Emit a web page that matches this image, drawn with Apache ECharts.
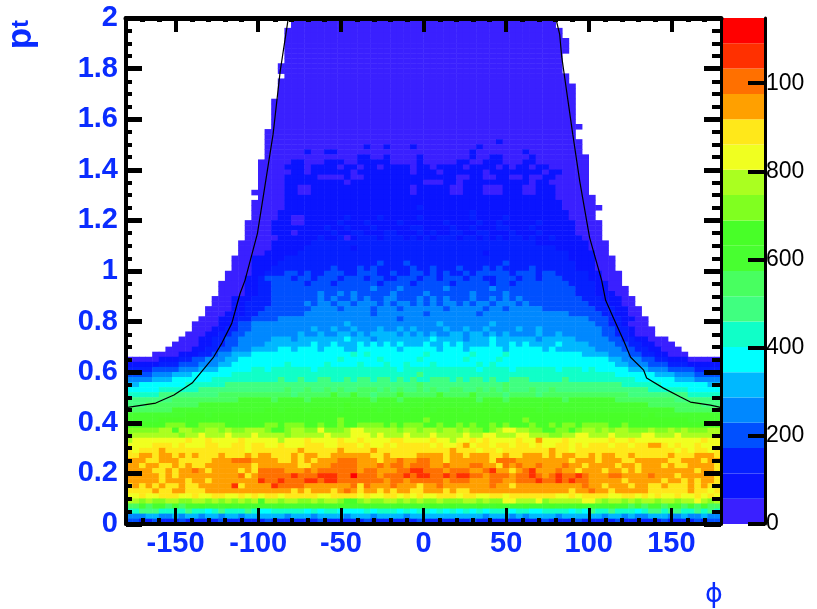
<!DOCTYPE html>
<html><head><meta charset="utf-8">
<style>html,body{margin:0;padding:0;background:#fff}#c{width:817px;height:609px}</style>
<script src="https://cdn.jsdelivr.net/npm/echarts@6/dist/echarts.min.js"></script>
</head><body><div id="c"></div>
<script>
// phi / pt binning of the histogram
const phiBinCount = 90;
const ptBinCount = 100;
const zMax = 1148;
const bandCount = 20;
const bandColors = ['#3a20ff','#0a14ff','#0620ff','#0050ff','#0088ff','#00b8ff','#00ffff','#10ffc8','#40ff80','#48ff60','#48ff30','#48ff28','#80ff20','#aaff20','#f0ff20','#ffe81a','#ffa000','#ff7000','#ff3000','#ff0000'];
const xMajorTicks = [-150,-100,-50,0,50,100,150];
const xMinorTicks = [-170,-160,-140,-130,-120,-110,-90,-80,-70,-60,-40,-30,-20,-10,10,20,30,40,60,70,80,90,110,120,130,140,160,170];
const zTicks = [0,200,400,600,800,1000];
const zTickLabels = ['0','200','400','600','800','100'];
const curvePhi = [-180,-179,-162,-151,-140,-127,-122,-116,-111,-108,-100.5,-91,-86.7,-82.4,-81.8];
const curvePt = [0.46,0.463,0.478,0.51,0.557,0.66,0.715,0.793,0.911,0.963,1.148,1.541,1.79,1.974,2];
const curvePhiR = [80,82.4,83.6,90.3,94.5,100.5,107.8,110.2,115,121,125.3,133.2,135,145.2,155.5,161.5,173.6,178.4,180];
const curvePtR = [2,1.935,1.848,1.541,1.356,1.132,0.963,0.884,0.813,0.726,0.659,0.608,0.577,0.537,0.502,0.482,0.47,0.463,0.46];
// colour band of every cell, top row (pt near 2) first; '.' = empty bin
const cellBands = [
".......... .......... .....00000 0000000000 0000000000 0000000000 00000..... .......... ..........",
".......... .......... .....00000 0000000000 0000000000 0000000000 00000..... .......... ..........",
".......... .......... ....000000 0000000000 0000000000 0000000000 000000.... .......... ..........",
".......... .......... ....000000 0000000000 0000000000 0000000000 000000.... .......... ..........",
".......... .......... ....000000 0000000000 0000000000 0000000000 0000000... .......... ..........",
".......... .......... ....000000 0000000000 0000000000 0000000000 0000000... .......... ..........",
".......... .......... ....000000 0000000000 0000000000 0000000000 0000000... .......... ..........",
".......... .......... ....000000 0000000000 0000000000 0000000000 000000.... .......... ..........",
".......... .......... ....000000 0000000000 0000000000 0000000000 000000.... .......... ..........",
".......... .......... ...0000000 0000000000 0000000000 0000000000 000000.... .......... ..........",
".......... .......... ...0000000 0000000000 0000000000 0000000000 000000.... .......... ..........",
".......... .......... ....000000 0000000000 0000000000 0000000000 0000000... .......... ..........",
".......... .......... ...0000000 0000000000 0000000000 0000000000 0000000... .......... ..........",
".......... .......... ...0000000 0000000000 0000000000 0000000000 00000000.. .......... ..........",
".......... .......... ...0000000 0000000000 0000000000 0000000000 00000000.. .......... ..........",
".......... .......... ...0000000 0000000000 0000000000 0000000000 00000000.. .......... ..........",
".......... .......... ..00000000 0000000000 0000000000 0000000000 00000000.. .......... ..........",
".......... .......... ..00000000 0000000000 0000000000 0000000000 00000000.. .......... ..........",
".......... .......... ..00000000 0000000000 0000000000 0000000000 00000000.. .......... ..........",
".......... .......... ..00000000 0000000000 0000000000 0000000000 00000000.. .......... ..........",
".......... .......... ..00000000 0000000000 0000000000 0000000000 00000000.. .......... ..........",
".......... .......... ..00000000 0000000000 0000000000 0000000000 000000000. .......... ..........",
".......... .......... .000000000 0000000000 0000000000 0000000000 00000000.. .......... ..........",
".......... .......... .000000000 0000000000 0000000000 0000000000 00000000.. .......... ..........",
".......... .......... .000000000 0000000000 0000000000 0000001000 000000000. .......... ..........",
".......... .......... .000000000 0000001001 0001000000 0001000000 000000000. .......... ..........",
".......... .......... .000000100 1100000000 0000000000 0010000000 100000000. .......... ..........",
".......... .......... .000000000 0000011001 0000100000 0010011000 0100000000 .......... ..........",
".......... .......... 0000011000 1110011111 0000100000 1100111000 1100000000 .......... ..........",
".......... .......... 0000111011 1101101101 1110110111 1011110101 1011000000 .......... ..........",
".......... .......... 0000011011 1111011111 1110111011 1111011111 1110110000 .......... ..........",
".......... .......... 0000111110 0001001111 1111111111 0011001100 1001100000 .......... ..........",
".......... .......... 0000111111 1110111111 1111100011 0111111111 1011000000 .......... ..........",
".......... .......... 0000110011 1111111111 1110111110 0111000111 0011100000 .......... ..........",
".......... .........0 0000110011 1111111111 1110111110 0111000111 0011100000 .......... ..........",
".......... .......... 0000111111 1111111111 1111111111 1111111111 1111100000 0......... ..........",
".......... .........0 0000111111 1111111111 1111111111 1111111111 1111110000 0......... ..........",
".......... .........0 0000111111 1111111111 1111211111 1111111111 1111110000 00........ ..........",
".......... .........0 0001111111 1111111111 1111111111 1121111111 1111111000 0......... ..........",
".......... .........0 0001100111 1112111121 1111211111 1121111211 1111111000 0......... ..........",
".......... ........00 0011100111 1121112111 1211111121 1112112111 1121111100 00........ ..........",
".......... ........00 0011111111 2112111211 1112211112 1121112211 1211111100 00........ ..........",
".......... ........00 0011101111 1211221112 2111212112 2112211121 1121111100 00........ ..........",
".......... ........00 0001111112 1120122212 2212121222 1221212122 1211211110 00........ ..........",
".......... .......000 0011111122 2222222222 2222222222 2222222222 2211111111 000....... ..........",
".......... .......000 0011111222 2222122222 2222222222 2222222222 2222211111 000....... ..........",
".......... .......000 0111112222 2222222222 2222222222 2222122222 2222222111 100....... ..........",
".......... ......0001 1111222222 2222222222 2222222222 2222222222 2222222111 1000...... ..........",
".......... ......0001 1112222222 2222222232 2232222222 2222222322 2222222211 1000...... ..........",
".......... ......0001 1122222222 2322232322 2223223222 3222323222 2322222211 1000...... ..........",
".......... .....00001 1222332322 3332233322 3223323232 2323333323 3323322222 11000..... ..........",
".......... .....00011 2333323323 3323332332 2333233233 3233223332 3323332222 11000..... ..........",
".......... ....000011 2233333233 3233333323 3332333332 3333323323 3333333222 21100..... ..........",
".......... ....000011 2233333333 3333333433 3433333343 3333343333 3333333322 211000.... ..........",
".......... ....000011 2233333334 3343433333 4333343333 3343333433 3333333322 211100.... ..........",
".......... ...0001112 2233333334 3433434334 4333434343 3343343434 3333333332 2211100... ..........",
".......... ...0001122 2233333434 4344344434 3443434344 3434434443 4333333333 2221100... ..........",
".......... ..00001122 2333333344 4434444344 4344444434 4444344344 4443333333 32221100.. ..........",
".......... ..00011122 3333333444 4444444344 4444434444 4443444444 4444444333 33221100.. ..........",
".......... .000111223 3334444444 4444444444 4344444444 4444444444 4444444444 333221100. ..........",
".......... 0000112334 4444444444 4445444444 4444444544 4444454444 4444444444 433221000. ..........",
".......... 0001122334 4444444454 4544544454 4545444454 4544544445 4454444444 4433221000 ..........",
".........0 0011223344 4444445445 4455454555 5454545445 5455454544 4454454444 4433221000 ..........",
"........00 0112233444 4455545555 5556555455 5555556555 5455565555 5545555544 4443322110 00........",
".......000 0112233444 4555555565 5655565656 5655565565 6555565565 6555565555 4444332211 000.......",
"......0000 1122334445 5556656665 6665566666 6566666566 6566666566 6665655555 5444433221 1000......",
"....000011 1223445556 6666666666 6666767666 6666676666 6676666766 6666666665 5554443322 11000.....",
"0000011122 3344455666 6666666666 6676666676 6666766666 6766667666 6666666666 6665544433 2211100000",
"1111122233 3444556666 6666766666 7666676667 6676667666 6667676666 6666666666 6666554443 3322211111",
"2222333344 4555666667 7677777767 7777777777 7677777777 7776777767 7777767776 7666665554 4433332222",
"3333444555 6666667777 7777777777 7777777777 7777877777 7777777777 7777777777 7777666666 5554443333",
"4444555666 6667777777 7778778778 8778788788 7878778887 8788787788 8777778777 7777777666 6665554444",
"5566666667 7777788888 8888888888 8888888888 8888988888 8888888988 8888888888 8888877777 7666666655",
"6666677777 7888888888 8888988988 9898899989 8988989889 9889898988 8988988888 8888888887 7777766666",
"7777788888 8888999999 9999989999 9a99a99899 9a99999a99 99a9999899 9989999999 9999998888 8888877777",
"8888888999 9999999aaa aa9aaaa9aa aaaaaaa9aa a9aaaaaaaa aaa9aaa9aa aaaaaa9aaa aaaa999999 9998888888",
"8889999999 9aaaaaaaaa aaaaaaaaaa aaabaaaaaa aaaaabaaaa aaaabaaaaa aaabaaaaaa aaaaaaaaa9 9999999888",
"9999999aaa aaaaaaaaaa abbabbbabb bbabbbbbab bbabbbabbb babbbbabbb bbabaaaaaa aaaaaaaaaa aaa9999999",
"aaaaaaaaab bbabbbbbbb bbbbbbbbbb bbbbbbbbbb bbbbbbbbbb bbbbbbbbbb bbbbbbbbbb bbbbbbbbab aaaaaaaaaa",
"aaaaabbbbb bbbbbbbbbb bbbbbbbbbb bbcbbbbbbb bbbbbcbbbb bbbbbbbbbb cbbbbbbbbb bbbbbbbbbb bbbbbaaaaa",
"bbbbbbcccb bccccbbbbb bccbcccbbc bbcbbccccb cbcccbbcbb cbcbbcbcbb bcbbcbccbc cccbbcbbbb bbbbbbbbbb",
"cccccddbdd ccddcdccdd dcbbcddcce cccdeedddd dcddcddcdd cdccbcdeed dccbbccbcd dcdcddcccd ccdcdcccdd",
"cdddddddcd dedddeddde ddddcddddd edddeeeded ddedddeddd deddeeddde edddccddee dddeddddee dddedddddd",
"deeeeeeeef eefeeeefee eeedeeefee eefeefeeee ffeeeefeed eefefeeeef eegeeefeee eeefeefeee eeeeeeefee",
"eeeefffefe eeffeeffef feefeeefff eefffefeef efffffefee fgeffeffef fefeeffefe fffeffeffg gfefeefeee",
"fefffgffff ffffffffef ffffffgfff ffgffffgff fffffffffg fffeffefff ffffgffeff ffffffffff fffefeffef",
"ffggfggfgf gfffgfffgf ggfffgfggf fggggggffg ffffggggfg gfgggffgff gggfgfggff gfggffgfff ffgfffgggf",
"gggffgggff fffggghhhg gggffgfgfg gghhhgggfg ghgghhggfg gggggfhhhg gggggggfgg gfgggffggg ggffgggfgg",
"ggfggffgfg ffgggggggf ggggggffgg ghhhhggghg hhghhhgghg gghhggfhgh gghggghggf ggggfggfgg gfgffggggf",
"ggggffgfgg hgfggggfgf hhhhggghgh hhhhhghhgg ghhiihhhgh hhgghiggfg higgghggfg ggfggfgfgg ggggggfggf",
"gggggfgfgg ggggggghfg hhhhhihhhi iihhjhhhgh hhihiihhih iihhghhhgh hihghihhih ggghhggggh gggfgggggf",
"gggggfgggf ggfggggggg ihhihhhiih iihhhhhhhg hhghhhhhgh hhggghhggh hhihhihihh gggggfgggg gfggfgfggf",
"fgfgfgffgf fgggggifgg ggihhhhggg gggghfhggg hgggfgghgg ggggghggfg gggggggggh ggfgggfggf fgfffgfgff",
"ffffgffggf ffgggggggg gggggfgfgg gfghgfggfg fggffgggfg ffgggggggg gggggggfgg hggfgggggf fffffgffef",
"eefeefffee feeffeefef effefffffe effffefeef fefefeefff effeeffeff fffffeefef fffeeffefe feefeefefe",
"ddcdccddcc ddcdcdcdcd bddcddccdc ddcbbcdccd dcdcdccdcc cddcdcceed ddecddddde edcddcdcdd cddcddedcd",
"99a9aa9a9a abaaababaa aaabaaabab aabaaabaaa abaaaabaab aaabaabaaa baaabaaaba aaabaa9a9a a9aa9a9a99",
"7788877778 7767877787 6677777676 7766667677 7676776767 6767677767 7667777676 8778777678 8788778787",
"4445544545 5455455455 5555455545 5554555455 5545555555 5555455545 4555545555 5545545445 5544544544",
"3322322232 2222322222 2322222223 2222223222 2222322222 2232222222 2223222232 2222322222 2322223233"
];

const bandWidth = zMax / bandCount;
const phiCats = Array.from({length: phiBinCount}, (_, i) => i);
const ptCats = Array.from({length: ptBinCount}, (_, i) => i);
const cells = [];
cellBands.forEach((row, i) => {
  const chars = row.replace(/ /g, '');
  for (let c = 0; c < chars.length && c < phiBinCount; c++) {
    if (chars[c] === '.') continue;
    const level = parseInt(chars[c], 36);
    cells.push([c, ptBinCount - 1 - i, (level + 0.5) * bandWidth]);
  }
});
const pieces = bandColors.map((color, i) => ({gte: i * bandWidth, lt: (i + 1) * bandWidth, color}));
const blue = '#0a2cff';
const labelFont = {color: blue, fontFamily: 'Liberation Sans', fontWeight: 'bold', fontSize: 29};
const rect = {left: 126, top: 18, width: 595, height: 506};
const phiAxis = (position, ticks, length, width, line, labels) => ({
  type: 'value', gridIndex: 1, min: -180, max: 180, position, z: 6,
  axisLine: {show: line, onZero: false, lineStyle: {color: '#000', width: position === 'top' ? 5 : 4}},
  axisTick: {show: true, inside: true, length, customValues: ticks, lineStyle: {color: '#000', width}},
  axisLabel: labels ? Object.assign({show: true, margin: 5, customValues: xMajorTicks}, labelFont) : {show: false},
  splitLine: {show: false}
});
const ptAxis = (position, major, minor, labels) => ({
  type: 'value', gridIndex: 1, min: 0, max: 2, interval: 0.2, position, z: 6,
  axisLine: {show: true, onZero: false, lineStyle: {color: '#000', width: position === 'left' ? 4 : 3}},
  axisTick: {show: true, inside: true, length: major, lineStyle: {color: '#000', width: 5}},
  minorTick: {show: true, splitNumber: 4, length: minor, lineStyle: {color: '#000', width: 4}},
  axisLabel: labels ? Object.assign({show: true, margin: 8}, labelFont) : {show: false},
  splitLine: {show: false}
});
const chart = echarts.init(document.getElementById('c'), null, {renderer: 'canvas'});
chart.setOption({
  animation: false,
  backgroundColor: '#fff',
  grid: [
    Object.assign({}, rect),
    Object.assign({}, rect),
    {left: 723, top: 18, width: 42, height: 506}
  ],
  visualMap: {type: 'piecewise', show: false, seriesIndex: 0, dimension: 2, pieces},
  xAxis: [
    {type: 'category', gridIndex: 0, data: phiCats, show: false},
    phiAxis('bottom', xMajorTicks, 16, 3, true, true),
    phiAxis('bottom', xMinorTicks, 6, 4, false, false),
    phiAxis('top', xMajorTicks, 14, 4, true, false),
    phiAxis('top', xMinorTicks, 4, 5, false, false),
    {type: 'category', gridIndex: 2, data: ['z'], show: false}
  ],
  yAxis: [
    {type: 'category', gridIndex: 0, data: ptCats, show: false},
    ptAxis('left', 16, 6, true),
    ptAxis('right', 17, 9, false),
    {type: 'value', gridIndex: 2, min: 0, max: zMax, position: 'right', z: 6,
     axisLine: {show: true, onZero: false, lineStyle: {color: '#000', width: 3}},
     axisTick: {show: true, inside: true, length: 17, customValues: zTicks, lineStyle: {color: '#000', width: 4}},
     axisLabel: {show: true, margin: 1, customValues: zTicks, color: '#000', fontFamily: 'Liberation Sans', fontSize: 23,
       formatter: v => zTickLabels[zTicks.indexOf(v)]},
     splitLine: {show: false}}
  ],
  series: [
    {type: 'heatmap', xAxisIndex: 0, yAxisIndex: 0, data: cells, progressive: 0, silent: true, emphasis: {disabled: true}},
    {type: 'line', xAxisIndex: 1, yAxisIndex: 1, z: 4, showSymbol: false, silent: true,
     data: curvePhi.map((p, i) => [p, curvePt[i]]), lineStyle: {color: '#000', width: 1.2}},
    {type: 'line', xAxisIndex: 1, yAxisIndex: 1, z: 4, showSymbol: false, silent: true,
     data: curvePhiR.map((p, i) => [p, curvePtR[i]]), lineStyle: {color: '#000', width: 1.2}}
  ].concat(bandColors.map(color => ({
    type: 'bar', xAxisIndex: 5, yAxisIndex: 3, stack: 'z', barWidth: '100%', silent: true,
    itemStyle: {color}, data: [bandWidth]
  }))),
  graphic: [
    {type: 'text', left: 4, top: 20, rotation: Math.PI / 2, z: 10,
     style: {text: '{p|p}{t|t}', rich: {p: {fill: blue, fontFamily: 'Liberation Sans', fontWeight: 'bold', fontSize: 35}, t: {fill: blue, fontFamily: 'Liberation Sans', fontWeight: 'bold', fontSize: 24}}}},
    {type: 'text', left: 705, top: 581, z: 10,
     style: {text: 'ϕ', fill: blue, fontFamily: 'DejaVu Sans', fontSize: 27}}
  ]
});
</script></body></html>
